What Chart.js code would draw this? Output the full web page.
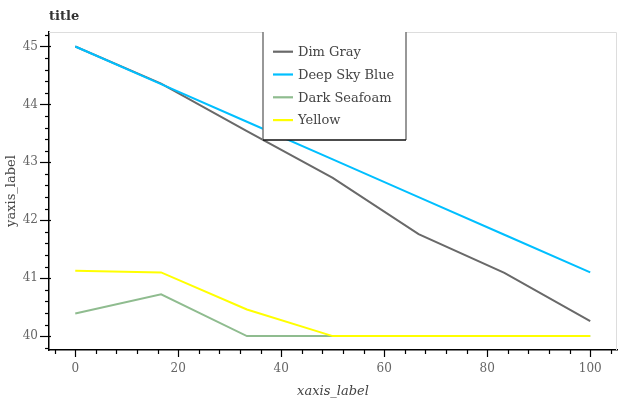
<!DOCTYPE html>
<html>
<head>
<meta charset="utf-8">
<script src="https://cdn.jsdelivr.net/npm/chart.js@4.4.1/dist/chart.umd.min.js"></script>
<style>
  html, body { margin:0; padding:0; background:#fff; }
  #wrap { width:622px; height:400px; }
</style>
</head>
<body>
<div id="wrap"><canvas id="c" width="622" height="400"></canvas></div>
<script>
// data
const xValues = [0, 16.67, 33.33, 50, 66.67, 83.33, 100];
const dimGray = [45, 44.36, 43.54, 42.73, 41.76, 41.09, 40.26];
const deepSkyBlue = [45, 44.35, 43.7, 43.05, 42.4, 41.75, 41.1];
const darkSeafoam = [40.39, 40.72, 40, 40, 40, 40, 40];
const yellow = [41.13, 41.1, 40.46, 40, 40, 40, 40];

const xTicks = [0, 20, 40, 60, 80, 100];
const yTicks = [40, 41, 42, 43, 44, 45];
const xMinorStep = 4;
const yMinorStep = 0.2;

const FONT = "'DejaVu Serif', serif";

function pts(ys){ return ys.map((y,i)=>({x:xValues[i], y})); }

// ticks, frame, title and boxed legend
const decor = {
  id: "decor",
  afterDraw(chart){
    const {ctx, chartArea:a, scales:{x, y}} = chart;
    ctx.save();
    // light frame top/right
    ctx.strokeStyle = "#dddddd"; ctx.lineWidth = 1;
    ctx.beginPath();
    ctx.moveTo(a.left, a.top + 0.5); ctx.lineTo(a.right - 0.5, a.top + 0.5); ctx.lineTo(a.right - 0.5, a.bottom);
    ctx.stroke();

    ctx.strokeStyle = "#000"; ctx.lineWidth = 1.2;
    // x ticks
    for (let v = x.min - (x.min % xMinorStep) ; v <= x.max; v += xMinorStep){
      const px = Math.round(x.getPixelForValue(v)) + 0.5;
      if (px < a.left || px > a.right) continue;
      const major = xTicks.includes(Math.round(v));
      ctx.beginPath();
      ctx.moveTo(px, a.bottom); ctx.lineTo(px, a.bottom + (major ? 7 : 4));
      ctx.stroke();
    }
    // y ticks
    for (let v = Math.ceil(y.min / yMinorStep) * yMinorStep; v <= y.max; v += yMinorStep){
      const py = Math.round(y.getPixelForValue(v)) + 0.5;
      const major = yTicks.some(t => Math.abs(t - v) < 1e-6);
      ctx.beginPath();
      ctx.moveTo(a.left + (major ? 2 : 0), py); ctx.lineTo(a.left - (major ? 9 : 4), py);
      ctx.stroke();
    }

    // title
    ctx.fillStyle = "#333";
    ctx.font = "bold 13px " + FONT;
    ctx.textBaseline = "middle"; ctx.textAlign = "left";
    ctx.fillText("title", a.left, 17);

    // legend box
    const L = 263, R = 406, T = a.top, B = 140;
    ctx.fillStyle = "#fff";
    ctx.fillRect(L, T, R - L, B - T);
    ctx.lineWidth = 1.5;
    ctx.strokeStyle = "#777";
    ctx.beginPath(); ctx.moveTo(L, T); ctx.lineTo(L, B); ctx.moveTo(R, T); ctx.lineTo(R, B); ctx.stroke();
    ctx.strokeStyle = "#111";
    ctx.beginPath(); ctx.moveTo(L, B); ctx.lineTo(R, B); ctx.stroke();

    ctx.font = "13px " + FONT;
    chart.data.datasets.forEach((ds, i) => {
      const ry = 51.7 + i * 22.8;
      ctx.strokeStyle = ds.borderColor; ctx.lineWidth = 2.2;
      ctx.beginPath(); ctx.moveTo(273, ry); ctx.lineTo(293, ry); ctx.stroke();
      ctx.fillStyle = "#444";
      ctx.fillText(ds.label, 298, ry + 1);
    });
    ctx.restore();
  }
};

new Chart(document.getElementById("c"), {
  type: "line",
  data: {
    datasets: [
      { label: "Dim Gray", data: pts(dimGray), borderColor: "#696969", order: 3 },
      { label: "Deep Sky Blue", data: pts(deepSkyBlue), borderColor: "#00BFFF", order: 2 },
      { label: "Dark Seafoam", data: pts(darkSeafoam), borderColor: "#8FBC8F", order: 1 },
      { label: "Yellow", data: pts(yellow), borderColor: "#FFFF00", order: 0 }
    ]
  },
  options: {
    responsive: false,
    animation: false,
    layout: { padding: { top: 32, right: 5, left: 0, bottom: 0 } },
    elements: {
      line: { borderWidth: 2, tension: 0, fill: false },
      point: { radius: 0, hoverRadius: 0 }
    },
    plugins: { legend: { display: false }, title: { display: false }, tooltip: { enabled: false } },
    scales: {
      x: {
        type: "linear", min: -5.1, max: 105.2,
        afterBuildTicks: s => { s.ticks = xTicks.map(v => ({ value: v })); },
        afterFit: s => { s.height = 50; },
        grid: { display: false, drawTicks: false },
        border: { display: true, color: "#000", width: 1.5 },
        ticks: { padding: 12, color: "#666", font: { family: FONT, size: 12 }, maxRotation: 0 },
        title: { display: true, text: "xaxis_label", color: "#444",
                 font: { family: FONT, size: 13, style: "italic" }, padding: { top: 0, bottom: 1 } }
      },
      y: {
        type: "linear", min: 39.76, max: 45.25,
        afterBuildTicks: s => { s.ticks = yTicks.map(v => ({ value: v })); },
        afterFit: s => { s.width = 49; },
        grid: { display: false, drawTicks: false },
        border: { display: true, color: "#000", width: 1.5 },
        ticks: { padding: 11, color: "#666", font: { family: FONT, size: 12 } },
        title: { display: true, text: "yaxis_label", color: "#444",
                 font: { family: FONT, size: 13 }, padding: { top: 4, bottom: 0 } }
      }
    }
  },
  plugins: [decor]
});
</script>
</body>
</html>
